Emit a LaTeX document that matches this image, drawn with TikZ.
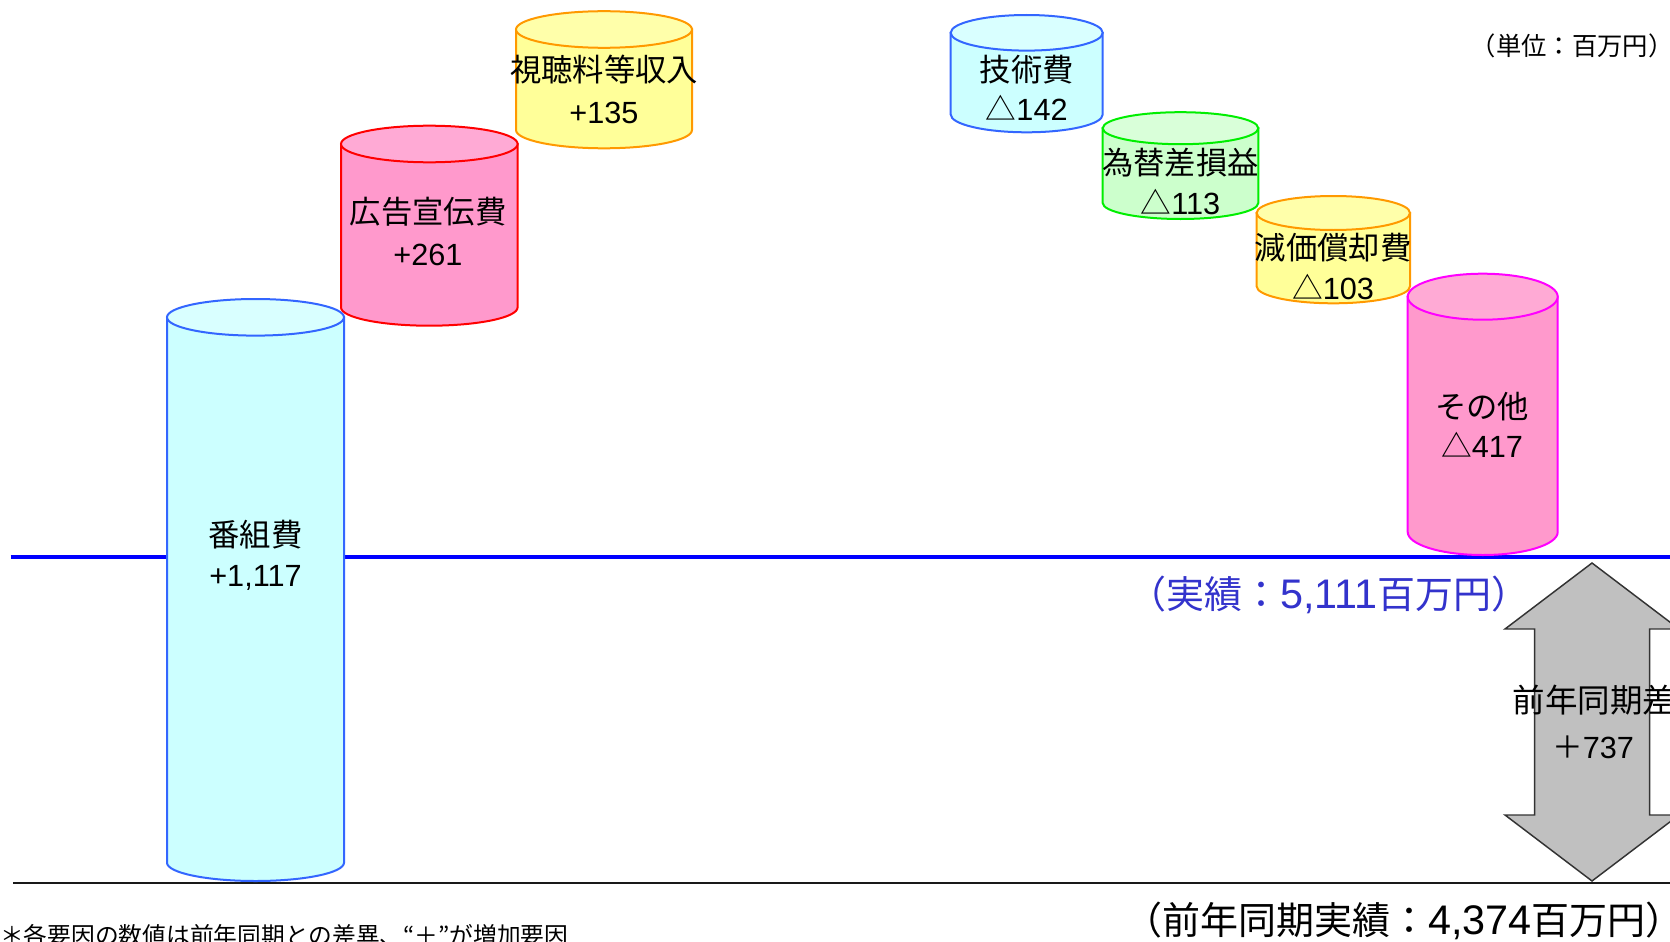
\documentclass[tikz,border=0pt]{standalone}
\usepackage{fontspec}
\setmainfont{Liberation Sans}
\newfontfamily\jpf{Noto Sans CJK JP}
\definecolor{cyanF}{HTML}{CCFFFF}
\definecolor{cyanT}{HTML}{D9FFFF}
\definecolor{blueE}{HTML}{3366FF}
\definecolor{pinkF}{HTML}{FF99CC}
\definecolor{pinkT}{HTML}{FFAAD5}
\definecolor{redE}{HTML}{FF0000}
\definecolor{yelF}{HTML}{FFFF99}
\definecolor{yelT}{HTML}{FFFFAA}
\definecolor{orgE}{HTML}{FF9900}
\definecolor{grnF}{HTML}{CCFFCC}
\definecolor{grnT}{HTML}{D9FFD9}
\definecolor{grnE}{HTML}{00EE00}
\definecolor{magE}{HTML}{FF00FF}
\definecolor{txtblue}{HTML}{3333CC}
\definecolor{arrF}{HTML}{C0C0C0}
\definecolor{arrE}{HTML}{333333}
\tikzset{
  cylline/.style={line width=1.5pt},
  lbl/.style={inner sep=0pt, font=\jpf\fontsize{23.5}{28}\selectfont},
  val/.style={inner sep=0pt, font=\fontsize{23}{27}\selectfont},
  bigtxt/.style={inner sep=0pt, font=\jpf\fontsize{28.5}{33}\selectfont},
  smalltxt/.style={inner sep=0pt, font=\jpf\fontsize{19}{22}\selectfont},
  notetxt/.style={inner sep=0pt, font=\jpf\fontsize{17.8}{21}\selectfont},
  blueline/.style={line width=2.4pt, draw=blue},
  baseline/.style={line width=1.5pt, draw=black!90},
  blockarrow/.style={fill=arrF, draw=arrE, line width=1.1pt, line join=miter},
}
% cx rx ytop ybot ry bodyfill topfill edge
\newcommand\cylshape[8]{%
  \filldraw[cylline, fill=#6, draw=#8] ({#1-#2},#3) -- ({#1-#2},#4)
    .. controls ({#1-#2},{#4+0.5523*#5}) and ({#1-0.5523*#2},{#4+#5}) .. (#1,{#4+#5})
    .. controls ({#1+0.5523*#2},{#4+#5}) and ({#1+#2},{#4+0.5523*#5}) .. ({#1+#2},#4)
    -- ({#1+#2},#3) -- cycle;
  \filldraw[cylline, fill=#7, draw=#8] ({#1-#2},#3)
    .. controls ({#1-#2},{#3+0.5523*#5}) and ({#1-0.5523*#2},{#3+#5}) .. (#1,{#3+#5})
    .. controls ({#1+0.5523*#2},{#3+#5}) and ({#1+#2},{#3+0.5523*#5}) .. ({#1+#2},#3)
    .. controls ({#1+#2},{#3-0.5523*#5}) and ({#1+0.5523*#2},{#3-#5}) .. (#1,{#3-#5})
    .. controls ({#1-0.5523*#2},{#3-#5}) and ({#1-#2},{#3-0.5523*#5}) .. ({#1-#2},#3) -- cycle;
}
\newcommand\dg[1]{{\fontspec{Liberation Sans}\fontsize{31}{33}\selectfont #1}}
\begin{document}
\begin{tikzpicture}[x=0.75pt,y=-0.75pt]
\useasboundingbox (0,0) rectangle (1670,942);
\clip (0,0) rectangle (1670,942);
\fill[white] (0,0) rectangle (1670,942);

% reference lines
\coordinate (bL) at (10.7,557);
\coordinate (bR) at (1670,557);
\coordinate (kL) at (13,882.7);
\coordinate (kR) at (1670,882.7);
\draw[baseline] (kL) -- (kR);
\draw[blueline] (bL) -- (bR);

% cylinders
\cylshape{255.5}{88.5}{317.3}{862.7}{18.3}{cyanF}{cyanT}{blueE}
\cylshape{429.3}{88.3}{144}{307.4}{18.3}{pinkF}{pinkT}{redE}
\cylshape{604}{88}{29.5}{130}{18.3}{yelF}{yelT}{orgE}
\cylshape{1026.7}{76}{32.8}{114.5}{17.8}{cyanF}{cyanT}{blueE}
\cylshape{1180.5}{77.8}{128.2}{203}{16}{grnF}{grnT}{grnE}
\cylshape{1333.3}{76.7}{213}{286.3}{17}{yelF}{yelT}{orgE}
\cylshape{1482.7}{75}{296.7}{532}{23}{pinkF}{pinkT}{magE}

% labels
\node[lbl] (n1) at (255.5,535) {番組費};
\node[val] (v1) at (255.5,578) {+1,117};
\node[lbl] (n2) at (428,211.7) {広告宣伝費};
\node[val] (v2) at (428,255) {+261};
\node[lbl] (n3) at (604,70) {視聴料等収入};
\node[val] (v3) at (604,113) {+135};
\node[lbl] (n4) at (1026.7,70) {技術費};
\node[val] (v4) at (1026.7,108) {{\jpf △}142};
\node[lbl] (n5) at (1180.5,163) {為替差損益};
\node[val] (v5) at (1180.5,201.7) {{\jpf △}113};
\node[lbl] (n6) at (1333,248) {減価償却費};
\node[val] (v6) at (1333,286.7) {{\jpf △}103};
\node[lbl] (n7) at (1482,406.7) {その他};
\node[val] (v7) at (1482,445) {{\jpf △}417};

% double block arrow
\filldraw[blockarrow] (1592,563) -- (1679,629) -- (1649.5,629) -- (1649.5,815)
  -- (1679,815) -- (1592,881) -- (1505,815) -- (1534.5,815) -- (1534.5,629)
  -- (1505,629) -- cycle;
\node[inner sep=0pt, font=\jpf\fontsize{24.4}{28}\selectfont] (d1) at (1594,700) {前年同期差};
\node[val] (d2) at (1593,747) {{\jpf ＋}737};

% texts
\node[bigtxt, text=txtblue] (cur) at (1329,595) {（実績：\dg{5,111}百万円）};
\node[bigtxt] (prev) at (1404,921) {（前年同期実績：\dg{4,374}百万円）};
\node[smalltxt] (unit) at (1572,46) {（単位：百万円）};
\node[notetxt, anchor=west] (note) at (0,935) {＊各要因の数値は前年同期との差異、“＋”が増加要因};
\end{tikzpicture}
\end{document}
